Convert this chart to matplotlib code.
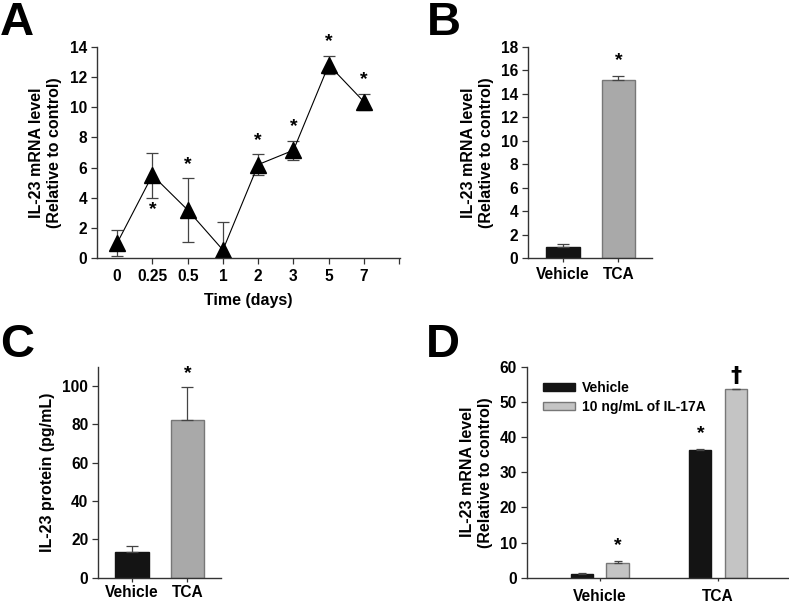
import numpy as np
import matplotlib.pyplot as plt

plt.rcParams['font.family'] = ['Liberation Sans', 'DejaVu Sans']
plt.rcParams['font.weight'] = 'bold'
plt.rcParams['axes.labelweight'] = 'bold'
FS = 11.5
TS = 11.2

# panel A: time course
days = ['0', '0.25', '0.5', '1', '2', '3', '5', '7']
a_mean = [1.0, 5.5, 3.2, 0.55, 6.2, 7.15, 12.8, 10.35]
a_err = [0.85, 1.48, 2.1, 1.83, 0.7, 0.62, 0.6, 0.55]
a_star = [False, True, True, False, True, True, True, True]

# panel B: mRNA vehicle vs TCA
b_groups = ['Vehicle', 'TCA']
b_mean = [1.0, 15.15]
b_err = [0.2, 0.35]

# panel C: protein
c_groups = ['Vehicle', 'TCA']
c_mean = [13.2, 82.1]
c_err = [3.3, 17.5]

# panel D: IL-17A treatment
d_groups = ['Vehicle', 'TCA']
d_series = ['Vehicle', '10 ng/mL of IL-17A']
d_vehicle = [1.0, 36.2]
d_vehicle_err = [0.2, 0.4]
d_il17 = [4.1, 53.6]
d_il17_err = [0.75, 0.2]

W, H = 789, 605
fig = plt.figure(figsize=(W / 100, H / 100), dpi=100)


def add_ax(l, t, r, b):
    return fig.add_axes([l / W, 1 - b / H, (r - l) / W, (b - t) / H])


def style(ax):
    for s in ['top', 'right']:
        ax.spines[s].set_visible(False)
    for s in ['left', 'bottom']:
        ax.spines[s].set_color('#333333')
        ax.spines[s].set_linewidth(1.0)
    ax.tick_params(direction='out', length=4, width=0.9, color='#333333',
                   labelsize=TS, pad=3)


black = '#141414'
grey = '#a9a9a9'
lgrey = '#c4c4c4'
edge = '#777777'

# ---- A
axA = add_ax(97, 46.7, 400, 258.3)
style(axA)
xa = np.arange(len(days))
axA.errorbar(xa, a_mean, yerr=a_err, fmt='^-', color='black', ms=11.5, lw=0.8,
             ecolor='#444444', elinewidth=0.9, capsize=4, capthick=0.9)
for i in range(len(days)):
    if not a_star[i]:
        continue
    if i == 1:
        axA.text(xa[i], a_mean[i] - a_err[i] - 0.25, '*', ha='center', va='top', fontsize=14)
    else:
        axA.text(xa[i], a_mean[i] + a_err[i] + 0.35, '*', ha='center', va='bottom', fontsize=14)
axA.set_xlim(-0.57, 8.02)
axA.set_ylim(0, 14)
axA.set_yticks(range(0, 15, 2))
axA.set_xticks(np.arange(1, 9))
axA.set_xticklabels(days[1:] + [''])
axA.set_xticks([0], minor=True)
axA.set_xticklabels(['0'], minor=True)
axA.tick_params(axis='x', which='minor', length=0, pad=8, labelsize=TS)
axA.tick_params(axis='x', which='major', pad=4)
axA.set_xlabel('Time (days)', fontsize=FS, labelpad=6)
axA.set_ylabel('IL-23 mRNA level\n(Relative to control)', fontsize=FS, labelpad=6)

# ---- B
axB = add_ax(527.7, 46.7, 651.7, 258.3)
style(axB)
xb = np.arange(len(b_groups))
axB.bar(xb, b_mean, width=0.61, color=[black, grey], edgecolor=[black, edge], linewidth=1)
axB.errorbar(xb, b_mean, yerr=[[0, 0], b_err], fmt='none', ecolor='#444444',
             elinewidth=0.9, capsize=4, capthick=0.9)
axB.text(xb[1], b_mean[1] + b_err[1] + 0.6, '*', ha='center', va='bottom', fontsize=14)
axB.set_xlim(-0.636, 1.6)
axB.set_ylim(0, 18)
axB.set_yticks(range(0, 19, 2))
axB.set_xticks(xb)
axB.set_xticklabels(b_groups)
axB.tick_params(axis='x', length=3)
axB.set_ylabel('IL-23 mRNA level\n(Relative to control)', fontsize=FS, labelpad=5)

# ---- C
axC = add_ax(98, 366.7, 220.7, 577.7)
style(axC)
xc = np.arange(len(c_groups))
axC.bar(xc, c_mean, width=0.61, color=[black, grey], edgecolor=[black, edge], linewidth=1)
axC.errorbar(xc, c_mean, yerr=[[0, 0], c_err], fmt='none', ecolor='#444444',
             elinewidth=0.9, capsize=4, capthick=0.9)
axC.text(xc[1], c_mean[1] + c_err[1] + 2.5, '*', ha='center', va='bottom', fontsize=14)
axC.set_xlim(-0.614, 1.6)
axC.set_ylim(0, 110)
axC.set_yticks(range(0, 101, 20))
axC.set_xticks(xc)
axC.set_xticklabels(c_groups)
axC.tick_params(axis='x', length=3, pad=2)
axC.set_ylabel('IL-23 protein (pg/mL)', fontsize=FS, labelpad=5)

# ---- D
axD = add_ax(526.7, 366.7, 788, 577.7)
style(axD)
xd = np.arange(len(d_groups))
off = 0.15
bw = 0.186
axD.bar(xd - off, d_vehicle, width=bw, color=black, edgecolor=black, linewidth=1,
        label=d_series[0])
axD.bar(xd + off, d_il17, width=bw, color=lgrey, edgecolor=edge, linewidth=1,
        label=d_series[1])
axD.errorbar(xd - off, d_vehicle, yerr=[[0, 0], d_vehicle_err], fmt='none',
             ecolor='#444444', elinewidth=0.9, capsize=3, capthick=0.9)
axD.errorbar(xd + off, d_il17, yerr=[[0, 0], d_il17_err], fmt='none',
             ecolor='#444444', elinewidth=0.9, capsize=3, capthick=0.9)
axD.text(xd[0] + off, d_il17[0] + d_il17_err[0] + 2.0, '*', ha='center', va='bottom', fontsize=14)
axD.text(xd[1] - off, d_vehicle[1] + d_vehicle_err[1] + 2.0, '*', ha='center', va='bottom', fontsize=14)
axD.text(xd[1] + off, d_il17[1] + d_il17_err[1] + 0.8, '\u2020', ha='center', va='bottom',
         fontsize=16, family=['DejaVu Sans'])
axD.set_xlim(-0.617, 1.59)
axD.set_ylim(0, 60)
axD.set_yticks(range(0, 61, 10))
axD.set_xticks(xd)
axD.set_xticklabels(d_groups)
axD.tick_params(axis='x', length=2, pad=6)
axD.set_ylabel('IL-23 mRNA level\n(Relative to control)', fontsize=FS, labelpad=5)
axD.legend(loc='upper left', bbox_to_anchor=(0.03, 0.97), frameon=False,
           handlelength=2.3, handleheight=0.5, handletextpad=0.5, labelspacing=0.35,
           fontsize=10, borderaxespad=0.2)

# panel letters
for lbl, x, y in [('A', 0, 1), ('B', 427, 1), ('C', 0, 323), ('D', 426, 323)]:
    fig.text(x / W, 1 - y / H, lbl, fontsize=34, fontweight='bold', ha='left', va='top')

fig.savefig('out.png', dpi=100)
